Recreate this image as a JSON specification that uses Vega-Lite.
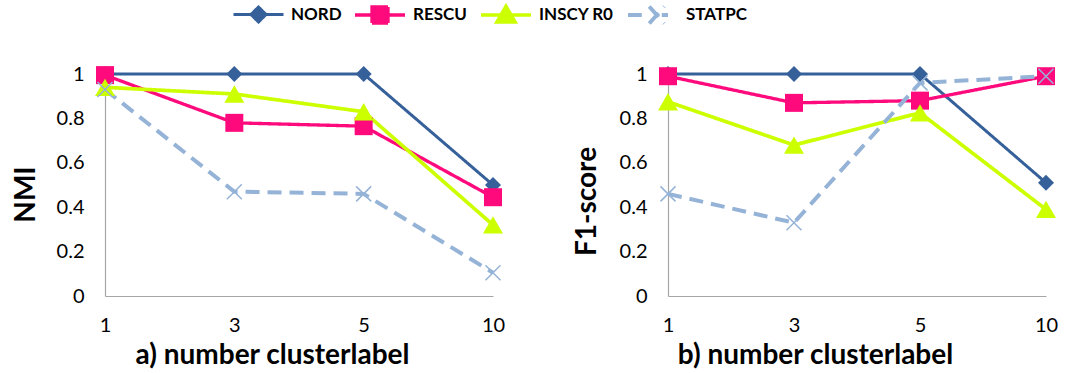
{
  "$schema": "https://vega.github.io/schema/vega-lite/v6.json",
  "padding": {"left": 12, "top": -12, "right": 0, "bottom": 0},
  "background": "white",
  "datasets": {
    "d": [
      {"panel": "a", "k": 1, "series": "NORD", "v": 1.0},
      {"panel": "a", "k": 3, "series": "NORD", "v": 1.0},
      {"panel": "a", "k": 5, "series": "NORD", "v": 1.0},
      {"panel": "a", "k": 10, "series": "NORD", "v": 0.5},
      {"panel": "a", "k": 1, "series": "RESCU", "v": 0.995},
      {"panel": "a", "k": 3, "series": "RESCU", "v": 0.78},
      {"panel": "a", "k": 5, "series": "RESCU", "v": 0.765},
      {"panel": "a", "k": 10, "series": "RESCU", "v": 0.445},
      {"panel": "a", "k": 1, "series": "INSCY R0", "v": 0.94},
      {"panel": "a", "k": 3, "series": "INSCY R0", "v": 0.91},
      {"panel": "a", "k": 5, "series": "INSCY R0", "v": 0.83},
      {"panel": "a", "k": 10, "series": "INSCY R0", "v": 0.32},
      {"panel": "a", "k": 1, "series": "STATPC", "v": 0.93},
      {"panel": "a", "k": 3, "series": "STATPC", "v": 0.47},
      {"panel": "a", "k": 5, "series": "STATPC", "v": 0.46},
      {"panel": "a", "k": 10, "series": "STATPC", "v": 0.105},
      {"panel": "b", "k": 1, "series": "NORD", "v": 1.0},
      {"panel": "b", "k": 3, "series": "NORD", "v": 1.0},
      {"panel": "b", "k": 5, "series": "NORD", "v": 1.0},
      {"panel": "b", "k": 10, "series": "NORD", "v": 0.51},
      {"panel": "b", "k": 1, "series": "RESCU", "v": 0.99},
      {"panel": "b", "k": 3, "series": "RESCU", "v": 0.87},
      {"panel": "b", "k": 5, "series": "RESCU", "v": 0.88},
      {"panel": "b", "k": 10, "series": "RESCU", "v": 0.99},
      {"panel": "b", "k": 1, "series": "INSCY R0", "v": 0.875},
      {"panel": "b", "k": 3, "series": "INSCY R0", "v": 0.68},
      {"panel": "b", "k": 5, "series": "INSCY R0", "v": 0.825},
      {"panel": "b", "k": 10, "series": "INSCY R0", "v": 0.39},
      {"panel": "b", "k": 1, "series": "STATPC", "v": 0.46},
      {"panel": "b", "k": 3, "series": "STATPC", "v": 0.33},
      {"panel": "b", "k": 5, "series": "STATPC", "v": 0.96},
      {"panel": "b", "k": 10, "series": "STATPC", "v": 0.99}
    ]
  },
  "spacing": 68,
  "hconcat": [
    {
      "width": 388,
      "height": 222,
      "data": {"name": "d"},
      "transform": [{"filter": "datum.panel === 'a'"}],
      "encoding": {
        "x": {"field": "k", "type": "ordinal", "scale": {"type": "point", "padding": 0},
              "axis": {"title": "a) number clusterlabel", "labelAngle": 0, "labelPadding": 19, "titlePadding": 6, "titleX": 167}},
        "y": {"field": "v", "type": "quantitative", "scale": {"domain": [0, 1], "nice": false},
              "axis": {"title": "NMI", "values": [0, 0.2, 0.4, 0.6, 0.8, 1], "format": "~g", "labelPadding": 21, "titlePadding": 16, "titleY": 120}},
        "color": {"field": "series", "type": "nominal",
                  "scale": {"domain": ["NORD", "RESCU", "INSCY R0", "STATPC"], "range": ["#35609A", "#FF0A7D", "#CCFF00", "#95B3D7"]},
                  "legend": {"orient": "none", "legendX": 127, "legendY": -86, "direction": "horizontal", "title": null, "gridAlign": "none",
                             "symbolType": "M-1,0H1",
                             "encode": {"symbols": {"update": {
                               "shape": {"signal": "datum.value === 'NORD' ? 'M-1,0H1M0,-0.3L0.3,0L0,0.3L-0.3,0Z' : datum.value === 'RESCU' ? 'M-1,0H1M-0.32,-0.32H0.32V0.32H-0.32Z' : datum.value === 'INSCY R0' ? 'M-1,0H1M0,-0.34L0.36,0.28H-0.36Z' : 'M-1,0H-0.45M0.35,0H0.6M-0.15,-0.34L0.45,0.34M-0.15,0.34L0.45,-0.34'"},
                               "fill": {"signal": "scale('color', datum.value)"},
                               "stroke": {"signal": "scale('color', datum.value)"},
                               "strokeWidth": {"value": 3},
                               "strokeDash": {"value": [1, 0]},
                               "opacity": {"value": 1}
                             }}}}}
      },
      "layer": [
        {"mark": {"type": "line"},
         "encoding": {
           "strokeDash": {"field": "series", "type": "nominal", "scale": {"domain": ["NORD", "RESCU", "INSCY R0", "STATPC"], "range": [[1, 0], [1, 0], [1, 0], [14, 8]]}, "legend": null},
           "strokeWidth": {"field": "series", "type": "nominal", "scale": {"domain": ["NORD", "RESCU", "INSCY R0", "STATPC"], "range": [3, 4, 4, 4]}, "legend": null}
         }},
        {"transform": [{"filter": "datum.series === 'NORD'"}],
         "mark": {"type": "point", "filled": true, "opacity": 1, "shape": "diamond", "size": 256}, "encoding": {}},
        {"transform": [{"filter": "datum.series === 'RESCU'"}],
         "mark": {"type": "point", "filled": true, "opacity": 1, "shape": "square", "size": 324}, "encoding": {}},
        {"transform": [{"filter": "datum.series === 'INSCY R0'"}],
         "mark": {"type": "point", "filled": true, "opacity": 1, "shape": "triangle-up", "size": 400}, "encoding": {}},
        {"transform": [{"filter": "datum.series === 'STATPC'"}],
         "mark": {"type": "point", "filled": false, "shape": "M-1,-1L1,1M-1,1L1,-1", "size": 225, "strokeWidth": 1.5, "opacity": 1},
         "encoding": {}}
      ]
    },
    {
      "width": 378,
      "height": 222,
      "data": {"name": "d"},
      "transform": [{"filter": "datum.panel === 'b'"}],
      "encoding": {
        "x": {"field": "k", "type": "ordinal", "scale": {"type": "point", "padding": 0},
              "axis": {"title": "b) number clusterlabel", "labelAngle": 0, "labelPadding": 19, "titlePadding": 6, "titleX": 147}},
        "y": {"field": "v", "type": "quantitative", "scale": {"domain": [0, 1], "nice": false},
              "axis": {"title": "F1-score", "values": [0, 0.2, 0.4, 0.6, 0.8, 1], "format": "~g", "labelPadding": 21, "titlePadding": 18, "titleY": 127}},
        "color": {"field": "series", "type": "nominal",
                  "scale": {"domain": ["NORD", "RESCU", "INSCY R0", "STATPC"], "range": ["#35609A", "#FF0A7D", "#CCFF00", "#95B3D7"]},
                  "legend": {"orient": "none", "legendX": 127, "legendY": -86, "direction": "horizontal", "title": null, "gridAlign": "none",
                             "symbolType": "M-1,0H1",
                             "encode": {"symbols": {"update": {
                               "shape": {"signal": "datum.value === 'NORD' ? 'M-1,0H1M0,-0.3L0.3,0L0,0.3L-0.3,0Z' : datum.value === 'RESCU' ? 'M-1,0H1M-0.32,-0.32H0.32V0.32H-0.32Z' : datum.value === 'INSCY R0' ? 'M-1,0H1M0,-0.34L0.36,0.28H-0.36Z' : 'M-1,0H-0.45M0.35,0H0.6M-0.15,-0.34L0.45,0.34M-0.15,0.34L0.45,-0.34'"},
                               "fill": {"signal": "scale('color', datum.value)"},
                               "stroke": {"signal": "scale('color', datum.value)"},
                               "strokeWidth": {"value": 3},
                               "strokeDash": {"value": [1, 0]},
                               "opacity": {"value": 1}
                             }}}}}
      },
      "layer": [
        {"mark": {"type": "line"},
         "encoding": {
           "strokeDash": {"field": "series", "type": "nominal", "scale": {"domain": ["NORD", "RESCU", "INSCY R0", "STATPC"], "range": [[1, 0], [1, 0], [1, 0], [14, 8]]}, "legend": null},
           "strokeWidth": {"field": "series", "type": "nominal", "scale": {"domain": ["NORD", "RESCU", "INSCY R0", "STATPC"], "range": [3, 4, 4, 4]}, "legend": null}
         }},
        {"transform": [{"filter": "datum.series === 'NORD'"}],
         "mark": {"type": "point", "filled": true, "opacity": 1, "shape": "diamond", "size": 256}, "encoding": {}},
        {"transform": [{"filter": "datum.series === 'RESCU'"}],
         "mark": {"type": "point", "filled": true, "opacity": 1, "shape": "square", "size": 324}, "encoding": {}},
        {"transform": [{"filter": "datum.series === 'INSCY R0'"}],
         "mark": {"type": "point", "filled": true, "opacity": 1, "shape": "triangle-up", "size": 400}, "encoding": {}},
        {"transform": [{"filter": "datum.series === 'STATPC'"}],
         "mark": {"type": "point", "filled": false, "shape": "M-1,-1L1,1M-1,1L1,-1", "size": 225, "strokeWidth": 1.5, "opacity": 1},
         "encoding": {}}
      ]
    }
  ],
  "resolve": {"scale": {"color": "shared", "strokeDash": "shared", "strokeWidth": "shared"}},
  "config": {
    "view": {"stroke": null},
    "font": "Lato",
    "axis": {
      "domainColor": "#a6a6a6", "domainWidth": 1.2, "ticks": false, "grid": false,
      "labelFont": "Lato", "labelFontSize": 20, "labelColor": "#000000",
      "titleFont": "Lato", "titleFontSize": 28, "titleFontWeight": "bold", "titleColor": "#000000"
    },
    "axisX": {"titleFontSize": 28},
    "legend": {
      "labelFont": "Lato", "labelFontSize": 17, "labelFontWeight": "bold", "labelColor": "#000000",
      "symbolSize": 2500, "symbolStrokeWidth": 3, "labelOffset": 6, "columnPadding": 6
    }
  }
}
